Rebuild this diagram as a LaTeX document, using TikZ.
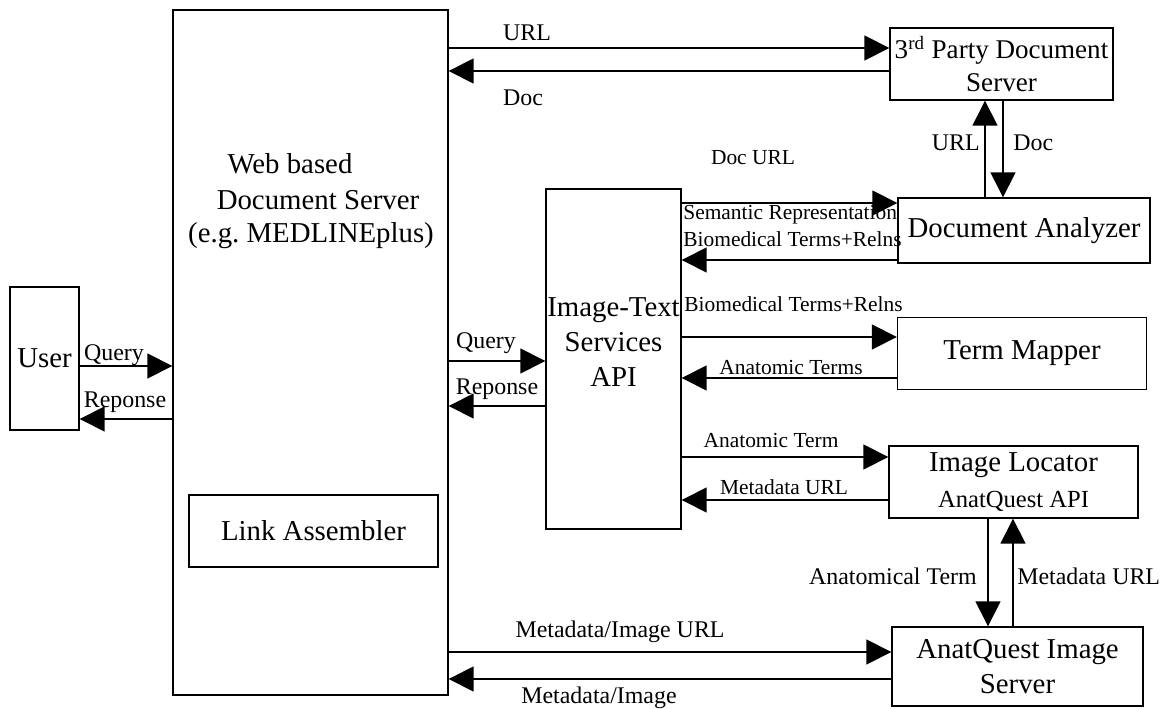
\documentclass[tikz,border=0pt]{standalone}
\usepackage{fontspec}
\setmainfont{Liberation Serif}
\usepackage{tikz}
\usetikzlibrary{positioning}
\usetikzlibrary{calc}
\usetikzlibrary{arrows.meta}
\tikzstyle{blk} = [draw, rectangle, line width=0.8pt, inner sep=0pt,
align=center, font=\fontsize{16.4}{20}\selectfont]
\tikzstyle{flow} = [draw, line width=0.8pt, -{Triangle[length=0.5cm,width=0.5cm]}]
\tikzset{lbl/.style={inner sep=0pt, font=\fontsize{13.6}{15}\selectfont}}
\tikzset{sml/.style={inner sep=0pt, font=\fontsize{12.2}{14}\selectfont}}
\frenchspacing

\begin{document}
\begin{tikzpicture}[x=0.02cm, y=-0.02cm]
            \useasboundingbox (0,0) rectangle (1166,709);
            %% Blocks
            \node[blk, minimum width=1.38cm, minimum height=2.86cm] (user) at (44.5,358.5) {User};
            \node[blk, minimum width=5.5cm, minimum height=13.7cm] (web) at (310.5,352.5) {};
            \node[blk, draw=none] (webtxt1) at (290,164) {Web based};
            \node[blk, draw=none] (webtxt2) at (318,200) {Document Server};
            \node[blk, draw=none] (webtxt3) at (311,236) {(e.g. MEDLINEplus)};
            \node[blk, minimum width=4.98cm, minimum height=1.44cm] (link) at (313.5,531) {Link Assembler};
            \node[blk, minimum width=2.7cm, minimum height=6.8cm] (itapi) at (613.5,359) {};
            \node[blk, draw=none] (itapitxt) at (613.5,342) {Image-Text\\Services\\API};
            \node[blk, minimum width=4.46cm, minimum height=1.44cm,
                  font=\fontsize{15.4}{19}\selectfont] (third) at (1001.5,64) {3\textsuperscript{rd} Party Document\\Server};
            \node[blk, minimum width=5.04cm, minimum height=1.3cm] (docan) at (1024,230.5) {Document Analyzer};
            \node[blk, minimum width=4.98cm, minimum height=1.44cm] (termmap) at (1022,353.5) {Term Mapper};
            \node[blk, minimum width=4.98cm, minimum height=1.44cm] (imgloc) at (1013.5,482) {Image Locator\\{\fontsize{14}{15}\selectfont AnatQuest API}};
            \node[blk, minimum width=5.02cm, minimum height=1.58cm] (anatq) at (1017.5,666.5) {AnatQuest Image\\Server};
            %% Flows (user <-> web)
            \path [flow] (user.east |- 0,366) to (web.west |- 0,366);
            \path [flow] (web.west |- 0,419) to (user.east |- 0,419);
            \node[lbl] (q1) at (114,355) {Query};
            \node[lbl] (r1) at (125,402) {Reponse};
            %% Flows (web <-> 3rd party)
            \path [flow] (web.east |- 0,48) to (third.west |- 0,48);
            \path [flow] (third.west |- 0,71) to (web.east |- 0,71);
            \node[lbl] (u1) at (527,33) {URL};
            \node[lbl] (d1) at (523,98) {Doc};
            %% Flows (3rd party <-> analyzer)
            \path [flow] (docan.north -| 985,0) to (third.south -| 985,0);
            \path [flow] (third.south -| 1003,0) to (docan.north -| 1003,0);
            \node[lbl, anchor=east] (u2) at (980,143) {URL};
            \node[lbl, anchor=west] (d2) at (1013,143) {Doc};
            %% Flows (web <-> services API)
            \path [flow] (web.east |- 0,361) to (itapi.west |- 0,361);
            \path [flow] (itapi.west |- 0,406) to (web.east |- 0,406);
            \node[lbl] (q2) at (486,343) {Query};
            \node[lbl] (r2) at (497,389) {Reponse};
            %% Flows (services API <-> analyzer)
            \path [flow] (itapi.east |- 0,203) to (docan.west |- 0,203);
            \path [flow] (docan.west |- 0,260) to (itapi.east |- 0,260);
            \node[sml] (du) at (753,158) {Doc URL};
            \node[sml, anchor=west] (sem) at (683,215) {Semantic Representation};
            \node[sml, anchor=west] (bio1) at (683,239) {Biomedical Terms+Relns};
            %% Flows (services API <-> term mapper)
            \path [flow] (itapi.east |- 0,337) to (termmap.west |- 0,337);
            \path [flow] (termmap.west |- 0,378) to (itapi.east |- 0,378);
            \node[sml, anchor=west] (bio2) at (684,304) {Biomedical Terms+Relns};
            \node[sml] (at1) at (791,368) {Anatomic Terms};
            %% Flows (services API <-> image locator)
            \path [flow] (itapi.east |- 0,457) to (imgloc.west |- 0,457);
            \path [flow] (imgloc.west |- 0,500) to (itapi.east |- 0,500);
            \node[sml] (at2) at (771,441) {Anatomic Term};
            \node[sml] (mu1) at (784,487) {Metadata URL};
            %% Flows (image locator <-> image server)
            \path [flow] (imgloc.south -| 988,0) to (anatq.north -| 988,0);
            \path [flow] (anatq.north -| 1013,0) to (imgloc.south -| 1013,0);
            \node[lbl, anchor=east] (at3) at (977,576) {Anatomical Term};
            \node[lbl, anchor=west] (mu2) at (1017,576) {Metadata URL};
            %% Flows (web <-> image server)
            \path [flow] (web.east |- 0,652) to (anatq.west |- 0,652);
            \path [flow] (anatq.west |- 0,679) to (web.east |- 0,679);
            \node[lbl] (miu) at (620,632) {Metadata/Image URL};
            \node[lbl] (mi) at (599,698) {Metadata/Image};
\end{tikzpicture}
\end{document}
